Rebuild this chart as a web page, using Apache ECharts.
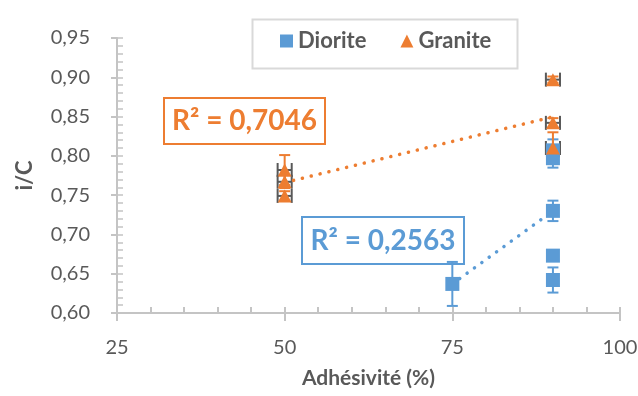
<!DOCTYPE html>
<html>
<head>
<meta charset="utf-8">
<script src="https://cdn.jsdelivr.net/npm/echarts@6/dist/echarts.min.js"></script>
<style>
  html, body { margin: 0; padding: 0; background: #fff; }
  #chart { width: 638px; height: 396px; }
</style>
</head>
<body>
<div id="chart"></div>
<script>
// données
const dioriteX = [75, 90, 90, 90, 90, 90];
const dioriteY = [0.637, 0.807, 0.797, 0.730, 0.673, 0.642];
const dioriteErr = [0.028, 0.014, 0.012, 0.013, 0.003, 0.016];

const graniteX = [50, 50, 50, 90, 90, 90];
const graniteY = [0.782, 0.767, 0.749, 0.897, 0.842, 0.810];
const graniteErr = [0.019, 0.008, 0.006, 0.004, 0.006, 0.020];
const graniteXErr = [1.05, 1.05, 1.05, 1.05, 1.05, 1.05];

const r2Labels = ['R² = 0,7046', 'R² = 0,2563'];

const BLUE = '#5B9BD5';
const ORANGE = '#ED7D31';
const GREY = '#595959';
const AXIS = '#c4c4c4';
const FONT = 'Lato';

// régression linéaire (courbe de tendance Excel)
function trend(xs, ys) {
  const n = xs.length;
  const mx = xs.reduce((a, b) => a + b, 0) / n;
  const my = ys.reduce((a, b) => a + b, 0) / n;
  let sxy = 0, sxx = 0;
  for (let i = 0; i < n; i++) {
    sxy += (xs[i] - mx) * (ys[i] - my);
    sxx += (xs[i] - mx) * (xs[i] - mx);
  }
  const b = sxy / sxx, a = my - b * mx;
  const x0 = Math.min(...xs), x1 = Math.max(...xs);
  return [[x0, a + b * x0], [x1, a + b * x1]];
}

function zip(xs, ys, es, xe) {
  return xs.map((x, i) => xe ? [x, ys[i], es[i], xe[i]] : [x, ys[i], es[i]]);
}

// barres d'erreur verticales (+ horizontales si 4e valeur)
function errBars(color, capColorX) {
  return function (params, api) {
    const x = api.value(0), y = api.value(1), e = api.value(2), ex = api.value(3);
    const top = api.coord([x, y + e]);
    const bot = api.coord([x, y - e]);
    const c = api.coord([x, y]);
    const st = { stroke: color, lineWidth: 2 };
    const kids = [
      { type: 'line', shape: { x1: top[0], y1: top[1], x2: bot[0], y2: bot[1] }, style: st },
      { type: 'line', shape: { x1: top[0] - 5.5, y1: top[1], x2: top[0] + 5.5, y2: top[1] }, style: st },
      { type: 'line', shape: { x1: bot[0] - 5.5, y1: bot[1], x2: bot[0] + 5.5, y2: bot[1] }, style: st }
    ];
    if (!isNaN(ex)) {
      const l = api.coord([x - ex, y]);
      const r = api.coord([x + ex, y]);
      const sx = { stroke: capColorX, lineWidth: 2 };
      kids.push(
        { type: 'line', shape: { x1: l[0], y1: c[1], x2: r[0], y2: c[1] }, style: sx },
        { type: 'line', shape: { x1: l[0], y1: c[1] - 7, x2: l[0], y2: c[1] + 7 }, style: sx },
        { type: 'line', shape: { x1: r[0], y1: c[1] - 7, x2: r[0], y2: c[1] + 7 }, style: sx }
      );
    }
    return { type: 'group', children: kids };
  };
}

const chart = echarts.init(document.getElementById('chart'));
chart.setOption({
  animation: false,
  textStyle: { fontFamily: FONT },
  grid: { left: 117, right: 18, top: 38, bottom: 83, containLabel: false, outerBoundsMode: 'none' },
  legend: {
    data: ['Diorite', 'Granite'],
    left: 280, top: 30, padding: 0,
    itemWidth: 13, itemHeight: 13, itemGap: 34,
    textStyle: { color: GREY, fontSize: 22, fontWeight: 'bold', fontFamily: FONT }
  },
  xAxis: [{
    type: 'value', min: 25, max: 100, interval: 25,
    name: 'Adhésivité (%)', nameLocation: 'middle', nameGap: 55,
    nameTextStyle: { color: GREY, fontSize: 21, fontWeight: 'bold', fontFamily: FONT },
    axisLine: { show: true, lineStyle: { color: AXIS, width: 2 } },
    axisTick: { show: true, inside: false, length: 8, lineStyle: { color: AXIS, width: 2 } },
    axisLabel: { color: GREY, fontSize: 20, margin: 25, fontFamily: FONT },
    splitLine: { show: false }
  }, {
    type: 'value', min: 25, max: 100, interval: 5, position: 'bottom',
    axisLine: { show: false },
    axisTick: { show: true, inside: true, length: 6, lineStyle: { color: AXIS, width: 2 } },
    axisLabel: { show: false },
    splitLine: { show: false }
  }],
  yAxis: [{
    type: 'value', min: 0.6, max: 0.95, interval: 0.05,
    name: 'i/C', nameLocation: 'middle', nameGap: 81, nameRotate: 90,
    nameTextStyle: { color: GREY, fontSize: 22, fontWeight: 'bold', fontFamily: FONT },
    axisLine: { show: true, lineStyle: { color: AXIS, width: 2 } },
    axisTick: { show: true, inside: false, length: 6, lineStyle: { color: AXIS, width: 2 } },
    axisLabel: {
      color: GREY, fontSize: 20, margin: 27, fontFamily: FONT,
      formatter: v => v.toFixed(2).replace('.', ',')
    },
    splitLine: { show: false }
  }, {
    type: 'value', min: 0.6, max: 0.95, interval: 0.01, position: 'left', offset: 0,
    axisLine: { show: false },
    axisTick: { show: true, inside: true, length: 6, lineStyle: { color: AXIS, width: 1.5 } },
    axisLabel: { show: false },
    splitLine: { show: false }
  }],
  series: [
    {
      name: 'errDiorite', type: 'custom', z: 1, silent: true,
      renderItem: errBars(BLUE, GREY),
      encode: { x: 0, y: 1 },
      data: zip(dioriteX, dioriteY, dioriteErr)
    },
    {
      name: 'errGranite', type: 'custom', z: 1, silent: true,
      renderItem: errBars(ORANGE, GREY),
      encode: { x: 0, y: 1 },
      data: zip(graniteX, graniteY, graniteErr, graniteXErr)
    },
    {
      name: 'trendGranite', type: 'line', z: 2, symbol: 'none', silent: true,
      lineStyle: { color: ORANGE, width: 3.5, type: [0.1, 9], cap: 'round' },
      data: trend(graniteX, graniteY)
    },
    {
      name: 'trendDiorite', type: 'line', z: 2, symbol: 'none', silent: true,
      lineStyle: { color: BLUE, width: 3.5, type: [0.1, 9], cap: 'round' },
      data: trend(dioriteX, dioriteY)
    },
    {
      name: 'Diorite', type: 'scatter', z: 3,
      symbol: 'rect', symbolSize: 14,
      itemStyle: { color: BLUE, opacity: 1 },
      data: dioriteX.map((x, i) => [x, dioriteY[i]])
    },
    {
      name: 'Granite', type: 'scatter', z: 4,
      symbol: 'triangle', symbolSize: [14, 13],
      itemStyle: { color: ORANGE, opacity: 1 },
      data: graniteX.map((x, i) => [x, graniteY[i]])
    }
  ],
  graphic: [
    {
      type: 'rect', z: 100, left: 250, top: 17,
      shape: { width: 265, height: 49 },
      style: { fill: 'none', stroke: '#d9d9d9', lineWidth: 2 }
    },
    {
      type: 'group', z: 100, left: 163, top: 97,
      children: [
        { type: 'rect', shape: { x: 0, y: 0, width: 161, height: 46 },
          style: { fill: '#fff', stroke: ORANGE, lineWidth: 2 } },
        { type: 'text', x: 80.5, y: 23,
          style: { text: r2Labels[0], align: 'center', verticalAlign: 'middle',
                   font: 'bold 28px ' + FONT, fill: ORANGE } }
      ]
    },
    {
      type: 'group', z: 100, left: 301, top: 216,
      children: [
        { type: 'rect', shape: { x: 0, y: 0, width: 162, height: 47 },
          style: { fill: '#fff', stroke: BLUE, lineWidth: 2 } },
        { type: 'text', x: 81, y: 23.5,
          style: { text: r2Labels[1], align: 'center', verticalAlign: 'middle',
                   font: 'bold 28px ' + FONT, fill: BLUE } }
      ]
    }
  ]
});
</script>
</body>
</html>
